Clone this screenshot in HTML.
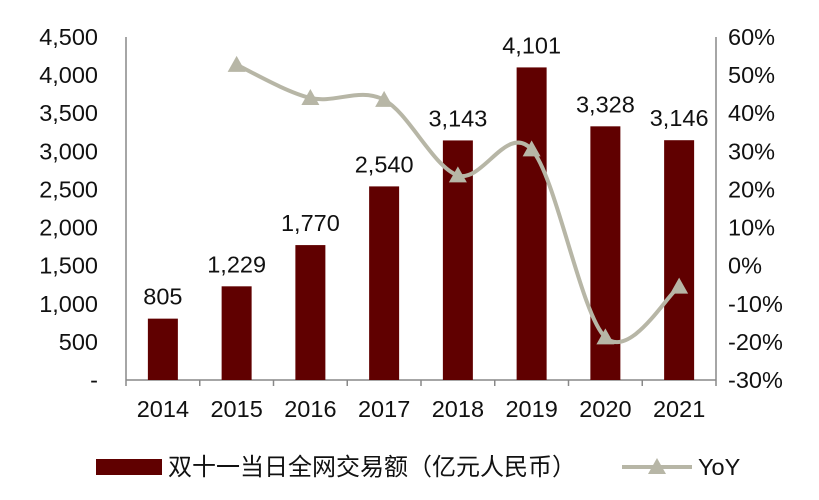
<!DOCTYPE html>
<html><head><meta charset="utf-8"><style>
body{margin:0;background:#fff;}
svg{display:block;font-family:"Liberation Sans","Noto Sans CJK SC",sans-serif;}
</style></head><body>
<svg id="c" width="819" height="500"></svg>
<script>
const categories=["2014","2015","2016","2017","2018","2019","2020","2021"];
const gmv=[805,1229,1770,2540,3143,4101,3328,3146];
const yoy=[null,52.7,44.0,43.5,23.7,30.5,-18.8,-5.5];
const leftTicks=[0,500,1000,1500,2000,2500,3000,3500,4000,4500];
const rightTicks=[-30,-20,-10,0,10,20,30,40,50,60];
const NS="http://www.w3.org/2000/svg";
const svg=document.getElementById("c");
const X0=126,X1=716,Y0=380,Y1=37;
const bw=(X1-X0)/categories.length;
const xc=i=>X0+bw*(i+0.5);
const yL=v=>Y0-(v/4500)*(Y0-Y1);
const yR=v=>Y0-((v+30)/90)*(Y0-Y1);
function mk(t,a,txt){const e=document.createElementNS(NS,t);for(const k in a)e.setAttribute(k,a[k]);if(txt!=null)e.textContent=txt;svg.appendChild(e);return e;}
const fmt=v=>v.toLocaleString("en-US");
const FS=23.5;
let e=mk("line",{x1:X0,y1:Y1,x2:X0,y2:Y0,stroke:"#888","stroke-width":1.5});


e=mk("line",{x1:X1,y1:Y1,x2:X1,y2:Y0,stroke:"#888","stroke-width":1.5});


e=mk("line",{x1:X0,y1:Y0,x2:X1,y2:Y0,stroke:"#888","stroke-width":1.5});


for(let i=0;i<=categories.length;i++){
  e=mk("line",{x1:X0+bw*i,y1:Y0,x2:X0+bw*i,y2:Y0+6,stroke:"#888","stroke-width":1.5});
  
  
}
leftTicks.forEach(v=>{
  e=mk("text",{x:98,y:yL(v)+8,"text-anchor":"end","font-size":FS,fill:"#111"},v===0?"-":fmt(v));
  
  
});
rightTicks.forEach(v=>{
  e=mk("text",{x:728,y:yR(v)+8,"font-size":FS,fill:"#111"},v+"%");
  
  
});
categories.forEach((c,i)=>{
  e=mk("text",{x:xc(i),y:417,"text-anchor":"middle","font-size":FS,fill:"#111"},c);
  
  
});
gmv.forEach((v,i)=>{
  e=mk("rect",{x:xc(i)-15,y:yL(v),width:30,height:Y0-yL(v),fill:"#600000"});
  
  
  e=mk("text",{x:xc(i),y:yL(v)-14,"text-anchor":"middle","font-size":FS,fill:"#111"},fmt(v));
  
  
});
const pts=[];yoy.forEach((v,i)=>{if(v!=null)pts.push([xc(i),yR(v)]);});
let d="M"+pts[0][0]+","+pts[0][1];
for(let i=0;i<pts.length-1;i++){
  const p0=pts[i-1]||pts[i],p1=pts[i],p2=pts[i+1],p3=pts[i+2]||p2;
  const t=1/6;
  d+=" C"+(p1[0]+(p2[0]-p0[0])*t)+","+(p1[1]+(p2[1]-p0[1])*t)+" "+(p2[0]-(p3[0]-p1[0])*t)+","+(p2[1]-(p3[1]-p1[1])*t)+" "+p2[0]+","+p2[1];
}
e=mk("path",{d:d,fill:"none",stroke:"#b7b6a6","stroke-width":4});


pts.forEach(p=>{
  e=mk("polygon",{points:(p[0])+","+(p[1]-9)+" "+(p[0]-9)+","+(p[1]+7)+" "+(p[0]+9)+","+(p[1]+7),fill:"#b7b6a6"});
  
  
});
e=mk("rect",{x:96,y:459,width:66,height:16,fill:"#600000"});


e=mk("text",{x:168,y:475,"font-size":24,fill:"#111"},"双十一当日全网交易额（亿元人民币）");


e=mk("line",{x1:622,y1:467,x2:692,y2:467,stroke:"#b7b6a6","stroke-width":4});


e=mk("polygon",{points:"657,458 648,474 666,474",fill:"#b7b6a6"});


e=mk("text",{x:698,y:475,"font-size":FS,fill:"#111"},"YoY");


</script>
</body></html>
